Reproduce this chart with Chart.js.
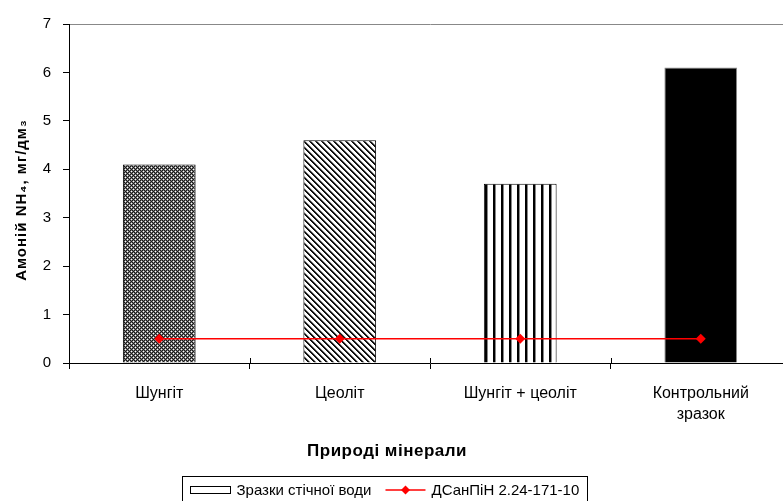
<!DOCTYPE html>
<html>
<head>
<meta charset="utf-8">
<script src="https://cdn.jsdelivr.net/npm/chart.js@4.4.1/dist/chart.umd.min.js"></script>
<style>
  html, body { margin: 0; padding: 0; background: #fff; overflow: hidden; }
  #wrap { width: 783px; height: 501px; overflow: hidden; position: relative; }
  canvas { display: block; }
</style>
</head>
<body>
<div id="wrap"><canvas id="c" width="796" height="501"></canvas></div>
<script>
const categories = ["Шунгіт", "Цеоліт", "Шунгіт + цеоліт", ["Контрольний", "зразок"]];
const sampleValues = [4.1, 4.6, 3.7, 6.1];
const normValues = [0.5, 0.5, 0.5, 0.5];
const seriesNames = ["Зразки стічної води", "ДСанПіН 2.24-171-10"];
const yTicks = [0, 1, 2, 3, 4, 5, 6, 7];
const yTitle = "Амоній NH₄, мг/дм₃";
const xTitle = "Природі мінерали";

const FONT = "'Liberation Sans', Arial, sans-serif";

function makePattern(w, h, draw) {
  const c = document.createElement('canvas');
  c.width = w; c.height = h;
  const g = c.getContext('2d');
  g.fillStyle = '#fff'; g.fillRect(0, 0, w, h);
  draw(g);
  return document.getElementById('c').getContext('2d').createPattern(c, 'repeat');
}
// fine dotted checker (Шунгіт)
const patChecker = makePattern(4, 4, g => {
  for (let y = 0; y < 4; y++) for (let x = 0; x < 4; x++) {
    g.fillStyle = ((x + y) % 2 === 0) ? '#1a1a1a' : '#7a7a7a';
    g.fillRect(x, y, 1, 1);
  }
  g.fillStyle = '#fff'; g.fillRect(1, 1, 1, 1); g.fillRect(3, 3, 1, 1);
});
// diagonal down-right stripes (Цеоліт)
const patDiag = makePattern(6, 6, g => {
  for (let i = 0; i < 6; i++) {
    g.fillStyle = '#111'; g.fillRect(i, i, 1, 1); g.fillRect((i + 1) % 6, i, 1, 1);
    g.fillStyle = '#999'; g.fillRect((i + 2) % 6, i, 1, 1);
  }
});
// vertical lines (Шунгіт + цеоліт)
const patVert = makePattern(8, 1, g => {
  g.fillStyle = '#000'; g.fillRect(5, 0, 2, 1);
  g.fillStyle = '#888'; g.fillRect(7, 0, 1, 1);
});

const overlay = {
  id: 'overlay',
  afterDraw(chart) {
    const ctx = chart.ctx;
    ctx.save();
    // y title
    ctx.fillStyle = '#000';
    ctx.font = 'bold 15px ' + FONT;
    ctx.letterSpacing = '1px';
    ctx.textAlign = 'center';
    ctx.textBaseline = 'middle';
    ctx.translate(22, 200);
    ctx.rotate(-Math.PI / 2);
    ctx.fillText(yTitle, 0, 0);
    ctx.restore();

    ctx.save();
    const cx = 387;
    ctx.fillStyle = '#000';
    ctx.font = 'bold 17px ' + FONT;
    ctx.letterSpacing = '0.5px';
    ctx.textAlign = 'center';
    ctx.textBaseline = 'middle';
    ctx.fillText(xTitle, cx, 451);
    ctx.letterSpacing = '0px';

    // legend
    ctx.font = '15px ' + FONT;
    const t1 = ctx.measureText(seriesNames[0]).width;
    const t2 = ctx.measureText(seriesNames[1]).width;
    const sym = 40, gap = 6, pad = 8, mid = 14;
    const total = pad + sym + gap + t1 + mid + sym + gap + t2 + pad;
    const lx = Math.round(384 - total / 2) + 0.5;
    const ly = 476.5, lh = 27;
    ctx.strokeStyle = '#000'; ctx.lineWidth = 1;
    ctx.strokeRect(lx, ly, Math.round(total), lh);
    const my = ly + 13.5;
    let x = lx + pad;
    ctx.fillStyle = '#fff';
    ctx.fillRect(x, my - 3.5, sym, 7);
    ctx.strokeRect(x, my - 3.5, sym, 7);
    x += sym + gap;
    ctx.fillStyle = '#000'; ctx.textAlign = 'left';
    ctx.fillText(seriesNames[0], x, my + 1);
    x += t1 + mid;
    ctx.strokeStyle = '#ff0000'; ctx.lineWidth = 1.5;
    ctx.beginPath(); ctx.moveTo(x, my); ctx.lineTo(x + sym, my); ctx.stroke();
    ctx.fillStyle = '#ff0000';
    ctx.beginPath();
    const dx = x + sym / 2, r = 4.5;
    ctx.moveTo(dx, my - r); ctx.lineTo(dx + r, my); ctx.lineTo(dx, my + r); ctx.lineTo(dx - r, my); ctx.closePath(); ctx.fill();
    x += sym + gap;
    ctx.fillStyle = '#000';
    ctx.fillText(seriesNames[1], x, my + 1);

    // crossing part of category ticks (above axis)
    const xs = chart.scales.x, a = chart.chartArea;
    ctx.strokeStyle = '#000'; ctx.lineWidth = 1;
    for (let i = 0; i <= categories.length; i++) {
      const px = Math.round(xs.getPixelForValue(i - 0.5)) + 0.5;
      if (px <= a.left + 1 || px > 783) continue;
      ctx.beginPath(); ctx.moveTo(px, a.bottom - 5); ctx.lineTo(px, a.bottom); ctx.stroke();
    }
    ctx.restore();
  }
};

new Chart(document.getElementById('c'), {
  data: {
    labels: categories,
    datasets: [
      {
        type: 'line',
        label: seriesNames[1],
        data: normValues,
        borderColor: '#ff0000',
        backgroundColor: '#ff0000',
        borderWidth: 1.5,
        pointStyle: 'rectRot',
        pointRadius: 5,
        pointBorderWidth: 0,
        tension: 0,
        order: 0
      },
      {
        type: 'bar',
        label: seriesNames[0],
        data: sampleValues,
        backgroundColor: [patChecker, patDiag, patVert, '#000'],
        borderColor: ['#000', '#000', '#000', '#888'],
        borderWidth: 1,
        categoryPercentage: 1,
        barPercentage: 0.403,
        order: 1
      }
    ]
  },
  options: {
    responsive: false,
    animation: false,
    events: [],
    layout: { padding: { left: 0, right: 2, top: 24, bottom: 0 } },
    plugins: { legend: { display: false }, tooltip: { enabled: false }, title: { display: false } },
    scales: {
      x: {
        type: 'category',
        offset: true,
        grid: { offset: true, drawOnChartArea: false, drawTicks: true, tickLength: 6, color: '#000' },
        border: { color: '#000', width: 1 },
        ticks: { color: '#000', font: { family: FONT, size: 16, lineHeight: 1.3 }, padding: 14, maxRotation: 0, autoSkip: false },
        afterFit(s) { s.height = 138; }
      },
      y: {
        min: 0, max: 7,
        afterBuildTicks(s) { s.ticks = yTicks.map(v => ({ value: v })); },
        grid: {
          drawTicks: true, tickLength: 6,
          color: c => (c.tick && c.tick.value === 7) ? '#888' : 'rgba(0,0,0,0)',
          tickColor: '#000'
        },
        border: { color: '#000', width: 1 },
        ticks: { color: '#000', font: { family: FONT, size: 15 }, padding: 12 },
        afterFit(s) { s.width = 69; }
      }
    }
  },
  plugins: [overlay]
});
</script>
</body>
</html>
